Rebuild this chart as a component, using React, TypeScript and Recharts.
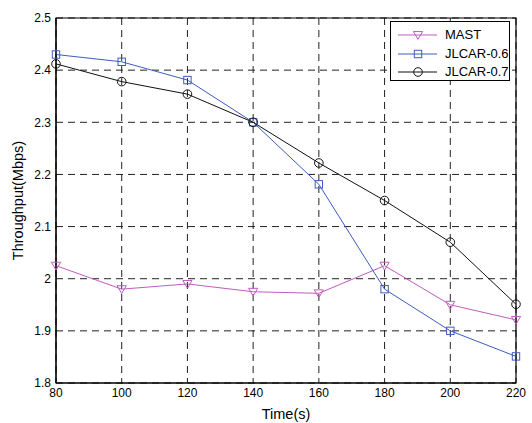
import React from 'react';
import { LineChart, Line, XAxis, YAxis, CartesianGrid, ReferenceArea, Legend } from 'recharts';

const times = [80, 100, 120, 140, 160, 180, 200, 220];
const mast = [2.025, 1.98, 1.99, 1.975, 1.972, 2.025, 1.95, 1.921];
const jlcar06 = [2.43, 2.416, 2.381, 2.3, 2.181, 1.98, 1.9, 1.851];
const jlcar07 = [2.412, 2.378, 2.354, 2.3, 2.222, 2.15, 2.07, 1.951];

const xTicks = [80, 100, 120, 140, 160, 180, 200, 220];
const yTicks = [1.8, 1.9, 2.0, 2.1, 2.2, 2.3, 2.4, 2.5];

const FONT = '"Liberation Sans", Arial, sans-serif';

const data = times.map((t, i) => ({
    time: t,
    mast: mast[i],
    jlcar06: jlcar06[i],
    jlcar07: jlcar07[i],
}));

type MarkerKind = 'triangle' | 'square' | 'circle';

const Marker = ({ kind, cx, cy, color }: { kind: MarkerKind; cx: number; cy: number; color: string }) => {
    if (kind === 'triangle') {
        const s = 4.6;
        return (
            <polygon
                points={`${cx - s},${cy - s * 0.75} ${cx + s},${cy - s * 0.75} ${cx},${cy + s * 0.95}`}
                fill="none"
                stroke={color}
                strokeWidth={1}
            />
        );
    }
    if (kind === 'square') {
        return <rect x={cx - 3.7} y={cy - 3.7} width={7.4} height={7.4} fill="none" stroke={color} strokeWidth={1} />;
    }
    return <circle cx={cx} cy={cy} r={4.3} fill="none" stroke={color} strokeWidth={1} />;
};

const series = [
    { key: 'mast', name: 'MAST', color: '#BF5CBE', marker: 'triangle' as MarkerKind },
    { key: 'jlcar06', name: 'JLCAR-0.6', color: '#3D5DBF', marker: 'square' as MarkerKind },
    { key: 'jlcar07', name: 'JLCAR-0.7', color: '#111111', marker: 'circle' as MarkerKind },
];

const LegendBox = () => (
    <div
        style={{
            width: 120,
            height: 60,
            border: '1px solid #000',
            background: '#fff',
            boxSizing: 'border-box',
            fontFamily: FONT,
            fontSize: 13,
            paddingTop: 4,
        }}
    >
        {series.map((s) => (
            <div key={s.key} style={{ display: 'flex', alignItems: 'center', height: 18.5 }}>
                <svg width={50} height={14} style={{ marginLeft: 4 }}>
                    <line x1={3} y1={7} x2={42} y2={7} stroke={s.color} strokeWidth={1} />
                    <Marker kind={s.marker} cx={23} cy={7} color={s.color} />
                </svg>
                <span style={{ color: '#000', lineHeight: '14px' }}>{s.name}</span>
            </div>
        ))}
    </div>
);

const YLabel = ({ viewBox }: any) => {
    const cy = viewBox.y + viewBox.height / 2;
    return (
        <text
            x={18}
            y={cy}
            transform={`rotate(-90 18 ${cy})`}
            textAnchor="middle"
            dominantBaseline="central"
            fontFamily={FONT}
            fontSize={14.5}
            fill="#000"
        >
            Throughput(Mbps)
        </text>
    );
};

const App: React.FC = () => {
    return (
        <div style={{ position: 'absolute', left: 0, top: 0, width: 532, height: 423, background: '#fff' }}>
            <LineChart width={532} height={423} data={data} margin={{ top: 18, right: 16, left: 0, bottom: 0 }}>
                <CartesianGrid stroke="#222" strokeDasharray="7 5" strokeWidth={1} />
                <XAxis
                    dataKey="time"
                    type="number"
                    domain={[80, 220]}
                    ticks={xTicks}
                    height={40}
                    tickSize={0}
                    tickMargin={5}
                    axisLine={{ stroke: '#000' }}
                    tick={{ fill: '#000', fontSize: 12, fontFamily: FONT }}
                    label={{ value: 'Time(s)', position: 'insideBottom', offset: 4, fill: '#000', fontSize: 14.5, fontFamily: FONT }}
                />
                <YAxis
                    type="number"
                    domain={[1.8, 2.5]}
                    ticks={yTicks}
                    width={56}
                    tickSize={0}
                    tickMargin={5}
                    axisLine={{ stroke: '#000' }}
                    tick={{ fill: '#000', fontSize: 12, fontFamily: FONT }}
                    tickFormatter={(v: number) => String(Number(v.toFixed(1)))}
                    label={<YLabel />}
                />
                <ReferenceArea x1={80} x2={220} y1={1.8} y2={2.5} fill="none" stroke="#000" strokeWidth={1.2} />
                {series.map((s) => (
                    <Line
                        key={s.key}
                        dataKey={s.key}
                        name={s.name}
                        stroke={s.color}
                        strokeWidth={1}
                        isAnimationActive={false}
                        dot={(p: any) => <Marker key={`${s.key}-${p.index}`} kind={s.marker} cx={p.cx} cy={p.cy} color={s.color} />}
                        activeDot={false}
                    />
                ))}
                <Legend
                    layout="vertical"
                    align="center"
                    verticalAlign="middle"
                    content={() => <LegendBox />}
                    wrapperStyle={{ position: 'absolute', left: 390, top: 21, width: 122, height: 62 }}
                />
            </LineChart>
        </div>
    );
};

export default App;
